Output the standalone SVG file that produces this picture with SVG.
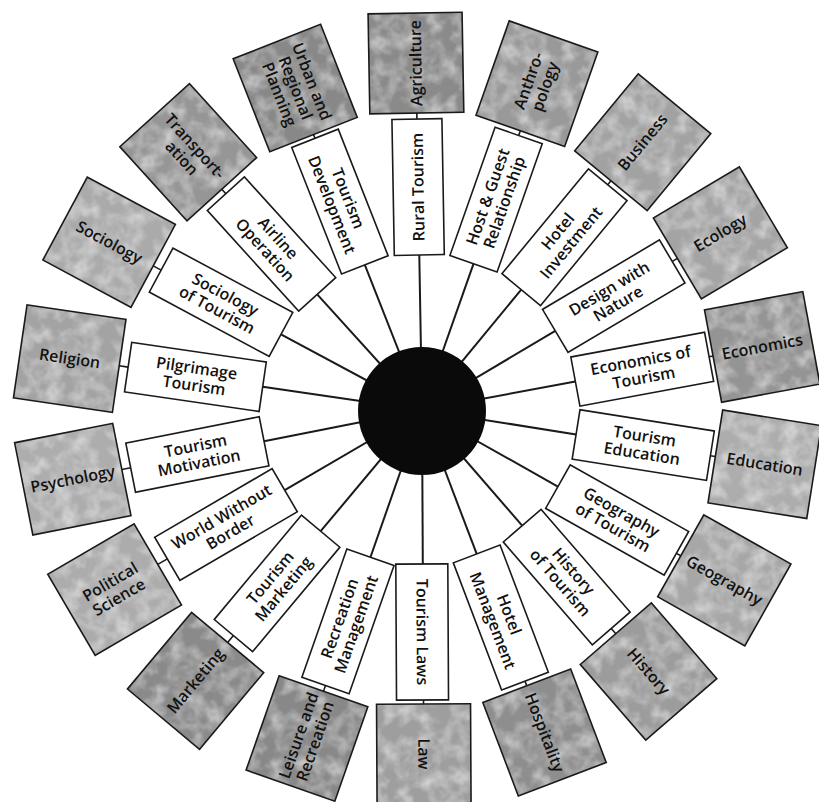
<svg xmlns="http://www.w3.org/2000/svg" width="819" height="802" viewBox="0 0 819 802">
<style>
.ib{fill:#fff;stroke:#1a1a1a;stroke-width:1.6}
.ob{fill:none;stroke:#1a1a1a;stroke-width:1.6}
.of{filter:url(#mottle)}
.t{font-family:"Open Sans","Liberation Sans",sans-serif;font-size:16px;font-weight:600;fill:#111;text-anchor:middle}
.sp{stroke:#1a1a1a;stroke-width:2;fill:none}
.cn{stroke:#1a1a1a;stroke-width:1.6;fill:none}
</style>
<defs>
<filter id="mottle" x="0" y="0" width="100%" height="100%" color-interpolation-filters="sRGB">
<feTurbulence type="fractalNoise" baseFrequency="0.06" numOctaves="3" seed="7" result="n"/>
<feColorMatrix in="n" type="matrix" values="0 0 0 0 1  0 0 0 0 1  0 0 0 0 1  1.1 0 0 0 -0.42" result="w"/>
<feComposite in="w" in2="SourceGraphic" operator="in" result="wi"/>
<feMerge><feMergeNode in="SourceGraphic"/><feMergeNode in="wi"/></feMerge>
</filter>
</defs>
<rect width="819" height="802" fill="#fff"/>
<g id="connectors">
<line class="sp" transform="rotate(-91 422 410)" x1="422" y1="410" x2="577" y2="410"/>
<line class="cn" transform="rotate(-91 422 410)" x1="713" y1="410" x2="719" y2="410"/>
<line class="sp" transform="rotate(-70.6 422 410)" x1="422" y1="410" x2="577" y2="410"/>
<line class="cn" transform="rotate(-70.6 422 410)" x1="713" y1="410" x2="718" y2="410"/>
<line class="sp" transform="rotate(-50.5 422 410)" x1="422" y1="410" x2="578" y2="410"/>
<line class="cn" transform="rotate(-50.5 422 410)" x1="714" y1="410" x2="719" y2="410"/>
<line class="sp" transform="rotate(-30.7 422 410)" x1="422" y1="410" x2="577" y2="410"/>
<line class="cn" transform="rotate(-30.7 422 410)" x1="713" y1="410" x2="719" y2="410"/>
<line class="sp" transform="rotate(-10.5 422 410)" x1="422" y1="410" x2="578" y2="410"/>
<line class="cn" transform="rotate(-10.5 422 410)" x1="714" y1="410" x2="718" y2="410"/>
<line class="sp" transform="rotate(9 422 410)" x1="422" y1="410" x2="578" y2="410"/>
<line class="cn" transform="rotate(9 422 410)" x1="714" y1="410" x2="719" y2="410"/>
<line class="sp" transform="rotate(29.4 422 410)" x1="422" y1="410" x2="578" y2="410"/>
<line class="cn" transform="rotate(29.4 422 410)" x1="714" y1="410" x2="719" y2="410"/>
<line class="sp" transform="rotate(49.1 422 410)" x1="422" y1="410" x2="575" y2="410"/>
<line class="cn" transform="rotate(49.1 422 410)" x1="711" y1="410" x2="718" y2="410"/>
<line class="sp" transform="rotate(69.2 422 410)" x1="422" y1="410" x2="576" y2="410"/>
<line class="cn" transform="rotate(69.2 422 410)" x1="712" y1="410" x2="717" y2="410"/>
<line class="sp" transform="rotate(89.7 422 410)" x1="422" y1="410" x2="576" y2="410"/>
<line class="cn" transform="rotate(89.7 422 410)" x1="712" y1="410" x2="716" y2="410"/>
<line class="sp" transform="rotate(109.3 422 410)" x1="422" y1="410" x2="578" y2="410"/>
<line class="cn" transform="rotate(109.3 422 410)" x1="714" y1="410" x2="720" y2="410"/>
<line class="sp" transform="rotate(129.9 422 410)" x1="422" y1="410" x2="580" y2="410"/>
<line class="cn" transform="rotate(129.9 422 410)" x1="716" y1="410" x2="725" y2="410"/>
<line class="sp" transform="rotate(149.7 422 410)" x1="422" y1="410" x2="581" y2="410"/>
<line class="cn" transform="rotate(149.7 422 410)" x1="717" y1="410" x2="728" y2="410"/>
<line class="sp" transform="rotate(168.8 422 410)" x1="422" y1="410" x2="583" y2="410"/>
<line class="cn" transform="rotate(168.8 422 410)" x1="719" y1="410" x2="728" y2="410"/>
<line class="sp" transform="rotate(188.3 422 410)" x1="422" y1="410" x2="583" y2="410"/>
<line class="cn" transform="rotate(188.3 422 410)" x1="719" y1="410" x2="728" y2="410"/>
<line class="sp" transform="rotate(208.2 422 410)" x1="422" y1="410" x2="582" y2="410"/>
<line class="cn" transform="rotate(208.2 422 410)" x1="718" y1="410" x2="727" y2="410"/>
<line class="sp" transform="rotate(227.8 422 410)" x1="422" y1="410" x2="578" y2="410"/>
<line class="cn" transform="rotate(227.8 422 410)" x1="714" y1="410" x2="720" y2="410"/>
<line class="sp" transform="rotate(248.5 422 410)" x1="422" y1="410" x2="578" y2="410"/>
<line class="cn" transform="rotate(248.5 422 410)" x1="714" y1="410" x2="718" y2="410"/>
</g>
<g id="hub"><circle cx="422" cy="411" r="64" fill="#0a0a0a"/></g>

<g id="rural-tourism" transform="rotate(-91 422 410)"><rect class="ib" x="577" y="385" width="136" height="50"/><text class="t" x="645" y="415.5">Rural Tourism</text></g>
<g id="agriculture" transform="rotate(-91 422 410)"><rect class="of" fill="#8a8a8a" x="719" y="363" width="100" height="94"/><rect class="ob" x="719" y="363" width="100" height="94"/><text class="t" x="769" y="415.5">Agriculture</text></g>

<g id="host-guest" transform="rotate(-70.6 422 410)"><rect class="ib" x="577" y="385" width="136" height="50"/><text class="t" x="645" y="406.7">Host &amp; Guest<tspan x="645" y="424.2">Relationship</tspan></text></g>
<g id="anthropology" transform="rotate(-70.6 422 410)"><rect class="of" fill="#999999" x="718" y="363" width="100" height="94"/><rect class="ob" x="718" y="363" width="100" height="94"/><text class="t" x="768" y="406.7">Anthro-<tspan x="768" y="424.2">pology</tspan></text></g>

<g id="hotel-investment" transform="rotate(-50.5 422 410)"><rect class="ib" x="578" y="385" width="136" height="50"/><text class="t" x="646" y="406.7">Hotel<tspan x="646" y="424.2">Investment</tspan></text></g>
<g id="business" transform="rotate(-50.5 422 410)"><rect class="of" fill="#a2a2a2" x="719" y="363" width="100" height="94"/><rect class="ob" x="719" y="363" width="100" height="94"/><text class="t" x="769" y="415.5">Business</text></g>

<g id="design-nature" transform="rotate(-30.7 422 410)"><rect class="ib" x="577" y="385" width="136" height="50"/><text class="t" x="645" y="406.7">Design with<tspan x="645" y="424.2">Nature</tspan></text></g>
<g id="ecology" transform="rotate(-30.7 422 410)"><rect class="of" fill="#a4a4a4" x="719" y="363" width="100" height="94"/><rect class="ob" x="719" y="363" width="100" height="94"/><text class="t" x="769" y="415.5">Ecology</text></g>

<g id="economics-tourism" transform="rotate(-10.5 422 410)"><rect class="ib" x="578" y="385" width="136" height="50"/><text class="t" x="646" y="406.7">Economics of<tspan x="646" y="424.2">Tourism</tspan></text></g>
<g id="economics" transform="rotate(-10.5 422 410)"><rect class="of" fill="#949494" x="718" y="363" width="100" height="94"/><rect class="ob" x="718" y="363" width="100" height="94"/><text class="t" x="768" y="415.5">Economics</text></g>

<g id="tourism-education" transform="rotate(9 422 410)"><rect class="ib" x="578" y="385" width="136" height="50"/><text class="t" x="646" y="406.7">Tourism<tspan x="646" y="424.2">Education</tspan></text></g>
<g id="education" transform="rotate(9 422 410)"><rect class="of" fill="#adadad" x="719" y="363" width="100" height="94"/><rect class="ob" x="719" y="363" width="100" height="94"/><text class="t" x="769" y="415.5">Education</text></g>

<g id="geography-tourism" transform="rotate(29.4 422 410)"><rect class="ib" x="578" y="385" width="136" height="50"/><text class="t" x="646" y="406.7">Geography<tspan x="646" y="424.2">of Tourism</tspan></text></g>
<g id="geography" transform="rotate(29.4 422 410)"><rect class="of" fill="#a7a7a7" x="719" y="363" width="100" height="94"/><rect class="ob" x="719" y="363" width="100" height="94"/><text class="t" x="769" y="415.5">Geography</text></g>

<g id="history-tourism" transform="rotate(49.1 422 410)"><rect class="ib" x="575" y="385" width="136" height="50"/><text class="t" x="643" y="406.7">History<tspan x="643" y="424.2">of Tourism</tspan></text></g>
<g id="history" transform="rotate(49.1 422 410)"><rect class="of" fill="#9c9c9c" x="718" y="363" width="100" height="94"/><rect class="ob" x="718" y="363" width="100" height="94"/><text class="t" x="768" y="415.5">History</text></g>

<g id="hotel-management" transform="rotate(69.2 422 410)"><rect class="ib" x="576" y="385" width="136" height="50"/><text class="t" x="644" y="406.7">Hotel<tspan x="644" y="424.2">Management</tspan></text></g>
<g id="hospitality" transform="rotate(69.2 422 410)"><rect class="of" fill="#8e8e8e" x="717" y="363" width="100" height="94"/><rect class="ob" x="717" y="363" width="100" height="94"/><text class="t" x="767" y="415.5">Hospitality</text></g>

<g id="tourism-laws" transform="rotate(89.7 422 410)"><rect class="ib" x="576" y="385" width="136" height="52"/><text class="t" x="644" y="416.5">Tourism Laws</text></g>
<g id="law" transform="rotate(89.7 422 410)"><rect class="of" fill="#9e9e9e" x="716" y="363" width="100" height="94"/><rect class="ob" x="716" y="363" width="100" height="94"/><text class="t" x="766" y="415.5">Law</text></g>

<g id="recreation-management" transform="rotate(109.3 422 410)"><rect class="ib" x="578" y="385" width="136" height="50"/><text class="t" x="646" y="406.7" transform="rotate(180 646 410)">Recreation<tspan x="646" y="424.2">Management</tspan></text></g>
<g id="leisure-recreation" transform="rotate(109.3 422 410)"><rect class="of" fill="#888888" x="720" y="363" width="100" height="94"/><rect class="ob" x="720" y="363" width="100" height="94"/><text class="t" x="770" y="406.7" transform="rotate(180 770 410)">Leisure and<tspan x="770" y="424.2">Recreation</tspan></text></g>

<g id="tourism-marketing" transform="rotate(129.9 422 410)"><rect class="ib" x="580" y="385" width="136" height="50"/><text class="t" x="648" y="406.7" transform="rotate(180 648 410)">Tourism<tspan x="648" y="424.2">Marketing</tspan></text></g>
<g id="marketing" transform="rotate(129.9 422 410)"><rect class="of" fill="#8a8a8a" x="725" y="363" width="100" height="94"/><rect class="ob" x="725" y="363" width="100" height="94"/><text class="t" x="775" y="415.5" transform="rotate(180 775 410)">Marketing</text></g>

<g id="world-without-border" transform="rotate(149.7 422 410)"><rect class="ib" x="581" y="385" width="136" height="50"/><text class="t" x="649" y="406.7" transform="rotate(180 649 410)">World Without<tspan x="649" y="424.2">Border</tspan></text></g>
<g id="political-science" transform="rotate(149.7 422 410)"><rect class="of" fill="#acacac" x="728" y="363" width="100" height="94"/><rect class="ob" x="728" y="363" width="100" height="94"/><text class="t" x="778" y="406.7" transform="rotate(180 778 410)">Political<tspan x="778" y="424.2">Science</tspan></text></g>

<g id="tourism-motivation" transform="rotate(168.8 422 410)"><rect class="ib" x="583" y="385" width="136" height="50"/><text class="t" x="651" y="406.7" transform="rotate(180 651 410)">Tourism<tspan x="651" y="424.2">Motivation</tspan></text></g>
<g id="psychology" transform="rotate(168.8 422 410)"><rect class="of" fill="#adadad" x="728" y="363" width="100" height="94"/><rect class="ob" x="728" y="363" width="100" height="94"/><text class="t" x="778" y="415.5" transform="rotate(180 778 410)">Psychology</text></g>

<g id="pilgrimage-tourism" transform="rotate(188.3 422 410)"><rect class="ib" x="583" y="385" width="136" height="50"/><text class="t" x="651" y="406.7" transform="rotate(180 651 410)">Pilgrimage<tspan x="651" y="424.2">Tourism</tspan></text></g>
<g id="religion" transform="rotate(188.3 422 410)"><rect class="of" fill="#a3a3a3" x="728" y="363" width="100" height="94"/><rect class="ob" x="728" y="363" width="100" height="94"/><text class="t" x="778" y="415.5" transform="rotate(180 778 410)">Religion</text></g>

<g id="sociology-tourism" transform="rotate(208.2 422 410)"><rect class="ib" x="582" y="385" width="136" height="50"/><text class="t" x="650" y="406.7" transform="rotate(180 650 410)">Sociology<tspan x="650" y="424.2">of Tourism</tspan></text></g>
<g id="sociology" transform="rotate(208.2 422 410)"><rect class="of" fill="#aaaaaa" x="727" y="363" width="100" height="94"/><rect class="ob" x="727" y="363" width="100" height="94"/><text class="t" x="777" y="415.5" transform="rotate(180 777 410)">Sociology</text></g>

<g id="airline-operation" transform="rotate(227.8 422 410)"><rect class="ib" x="578" y="385" width="136" height="50"/><text class="t" x="646" y="406.7" transform="rotate(180 646 410)">Airline<tspan x="646" y="424.2">Operation</tspan></text></g>
<g id="transportation" transform="rotate(227.8 422 410)"><rect class="of" fill="#969696" x="720" y="363" width="100" height="94"/><rect class="ob" x="720" y="363" width="100" height="94"/><text class="t" x="770" y="406.7" transform="rotate(180 770 410)">Transport-<tspan x="770" y="424.2">ation</tspan></text></g>

<g id="tourism-development" transform="rotate(248.5 422 410)"><rect class="ib" x="578" y="385" width="136" height="50"/><text class="t" x="646" y="406.7" transform="rotate(180 646 410)">Tourism<tspan x="646" y="424.2">Development</tspan></text></g>
<g id="urban-regional-planning" transform="rotate(248.5 422 410)"><rect class="of" fill="#888888" x="718" y="363" width="100" height="94"/><rect class="ob" x="718" y="363" width="100" height="94"/><text class="t" x="768" y="397.7" transform="rotate(180 768 410)">Urban and<tspan x="768" y="415.2">Regional</tspan><tspan x="768" y="432.7">Planning</tspan></text></g>
</svg>
